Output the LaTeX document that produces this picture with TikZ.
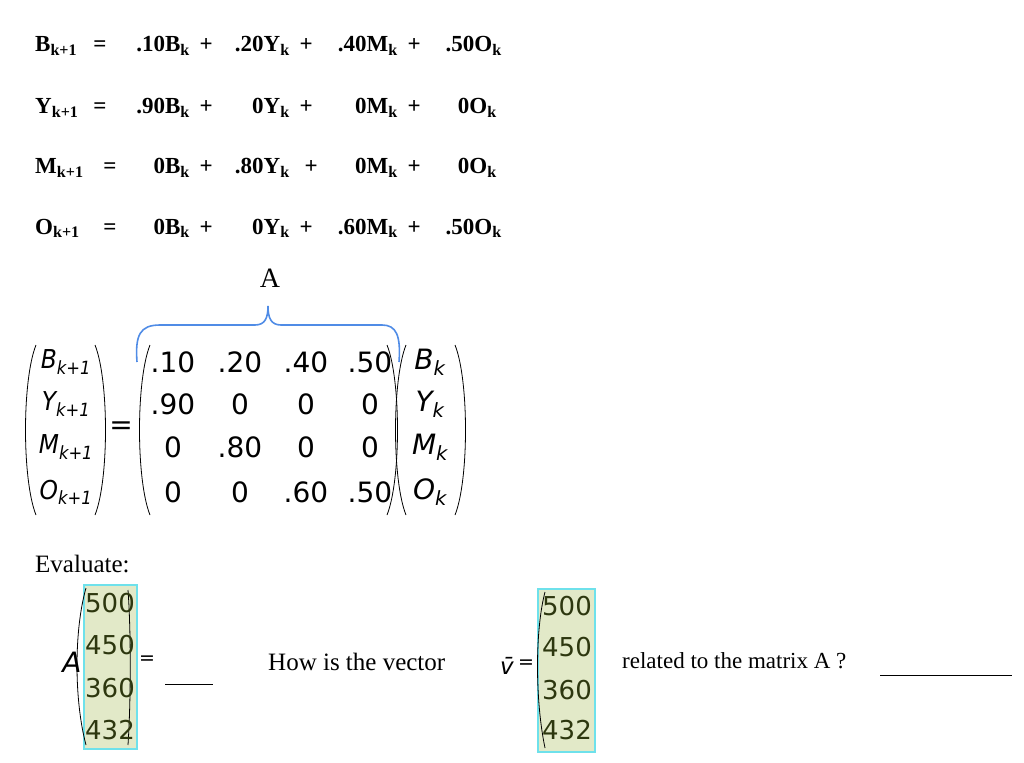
\documentclass[tikz,border=0pt]{standalone}
\usepackage{fontspec}
\setmainfont{Liberation Serif}
\newfontfamily\mfont{DejaVu Sans}
\newfontfamily\cfont{DejaVu Sans Condensed}
\begin{document}
\begin{tikzpicture}[x=1pt,y=-1pt,
 eq/.style={font=\fontsize{23}{24}\selectfont\bfseries, inner sep=0pt},
 mt/.style={font=\mfont\fontsize{28}{29}\selectfont, inner sep=0pt},
 mi/.style={font=\mfont\itshape\fontsize{28}{29}\selectfont, inner sep=0pt},
 vn/.style={font=\mfont\fontsize{26}{27}\selectfont, text={rgb,255:red,45;green,55;blue,15}, inner sep=0pt},
 gbox/.style={fill={rgb,255:red,226;green,233;blue,200}, draw={rgb,255:red,110;green,225;blue,235}, line width=1.2pt},
 par/.style={line width=0.8pt},
 brc/.style={draw={rgb,255:red,80;green,140;blue,230}, line width=1.6pt},
 txt/.style={font=\fontsize{25}{26}\selectfont, inner sep=0pt}]
\useasboundingbox (0,0) rectangle (1024,762);
% equations
\newcommand\trm[3]{\node[eq,anchor=base east] at (#1,#2) {#3};}
\foreach \y/\l/\e in {52/{B\textsubscript{k+1}}/100, 114/{Y\textsubscript{k+1}}/100, 174/{M\textsubscript{k+1}}/110, 234/{O\textsubscript{k+1}}/110}{
 \node[eq,anchor=base west] at (35,\y) {\l};
 \node[eq,anchor=base] at (\e,\y) {=};}
\trm{190}{52}{.10B\textsubscript{k}} \trm{213}{52}{+} \trm{290}{52}{.20Y\textsubscript{k}} \trm{313}{52}{+} \trm{398}{52}{.40M\textsubscript{k}} \trm{421}{52}{+} \trm{502}{52}{.50O\textsubscript{k}}
\trm{190}{114}{.90B\textsubscript{k}} \trm{213}{114}{+} \trm{290}{114}{0Y\textsubscript{k}} \trm{313}{114}{+} \trm{398}{114}{0M\textsubscript{k}} \trm{421}{114}{+} \trm{497}{114}{0O\textsubscript{k}}
\trm{190}{174}{0B\textsubscript{k}} \trm{213}{174}{+} \trm{290}{174}{.80Y\textsubscript{k}} \trm{318}{174}{+} \trm{398}{174}{0M\textsubscript{k}} \trm{421}{174}{+} \trm{497}{174}{0O\textsubscript{k}}
\trm{190}{234}{0B\textsubscript{k}} \trm{213}{234}{+} \trm{290}{234}{0Y\textsubscript{k}} \trm{313}{234}{+} \trm{398}{234}{.60M\textsubscript{k}} \trm{421}{234}{+} \trm{502}{234}{.50O\textsubscript{k}}
% A and brace
\node[font=\fontsize{28}{29}\selectfont, inner sep=0pt] (lblA) at (270,278) {A};
\draw[brc] (137,362) .. controls (135,335) and (140,325) .. (160,325) -- (255,325) .. controls (265,325) and (268,318) .. (268,306)
 .. controls (268,318) and (271,325) .. (281,325) -- (382,325) .. controls (396,325) and (401,335) .. (399,362);
% left vector
\foreach \y/\t in {362/{B\textsubscript{k+1}},404/{Y\textsubscript{k+1}},447/{M\textsubscript{k+1}},492/{O\textsubscript{k+1}}}
 \node[mi,font=\cfont\itshape\fontsize{26}{27}\selectfont] at (66,\y) {\t};
\draw[par] (36,345) .. controls (22,380) and (22,480) .. (36,515);
\draw[par] (95,345) .. controls (109,380) and (109,480) .. (95,515);
\node[mt] (eqs) at (121,428) {=};
% matrix
\draw[par] (150,345) .. controls (136,380) and (136,480) .. (150,515);
\draw[par] (387,345) .. controls (401,380) and (401,480) .. (387,515);
\node[mt] at (173,362) {.10}; \node[mt] at (240,362) {.20}; \node[mt] at (306,362) {.40}; \node[mt] at (370,362) {.50};
\node[mt] at (173,404) {.90}; \node[mt] at (240,404) {0}; \node[mt] at (306,404) {0}; \node[mt] at (370,404) {0};
\node[mt] at (173,447) {0}; \node[mt] at (240,447) {.80}; \node[mt] at (306,447) {0}; \node[mt] at (370,447) {0};
\node[mt] at (173,492) {0}; \node[mt] at (240,492) {0}; \node[mt] at (306,492) {.60}; \node[mt] at (370,492) {.50};
% right vector
\draw[par] (406,345) .. controls (392,380) and (392,480) .. (406,515);
\draw[par] (455,345) .. controls (469,380) and (469,480) .. (455,515);
\foreach \y/\t in {362/{B\textsubscript{k}},404/{Y\textsubscript{k}},447/{M\textsubscript{k}},492/{O\textsubscript{k}}}
 \node[mi] at (430,\y) {\t};
% bottom
\node[txt,anchor=base west] at (35,572) {Evaluate:};
\node[mi] at (72,662) {A};
\draw[gbox] (84,585) rectangle (137,749);
\draw[par] (86,588) .. controls (74,630) and (74,700) .. (86,745);
\draw[par] (128,590) .. controls (131,630) and (131,700) .. (128,745);
\foreach \y/\t in {603/500,645/450,688/360,730/432} \node[vn] at (110,\y) {\t};
\node[mt,font=\mfont\fontsize{19}{20}\selectfont] at (147,660) {=};
\draw (165,684) -- (213,684);
\node[txt,anchor=base west] at (268,670) {How is the vector};
\node[mi,font=\mfont\itshape\fontsize{23}{24}\selectfont] at (507,666) {\=v};
\node[mt,font=\mfont\fontsize{19}{20}\selectfont] at (526,664) {=};
\draw[gbox] (538,589) rectangle (595,752);
\draw[par] (545,592) .. controls (535,630) and (535,700) .. (545,748);
\foreach \y/\t in {606/500,647/450,690/360,730/432} \node[vn] at (567,\y) {\t};
\node[txt,anchor=base west,font=\fontsize{23}{24}\selectfont] at (622,668) {related to the matrix A ?};
\draw (880,675) -- (1012,675);
\end{tikzpicture}
\end{document}
